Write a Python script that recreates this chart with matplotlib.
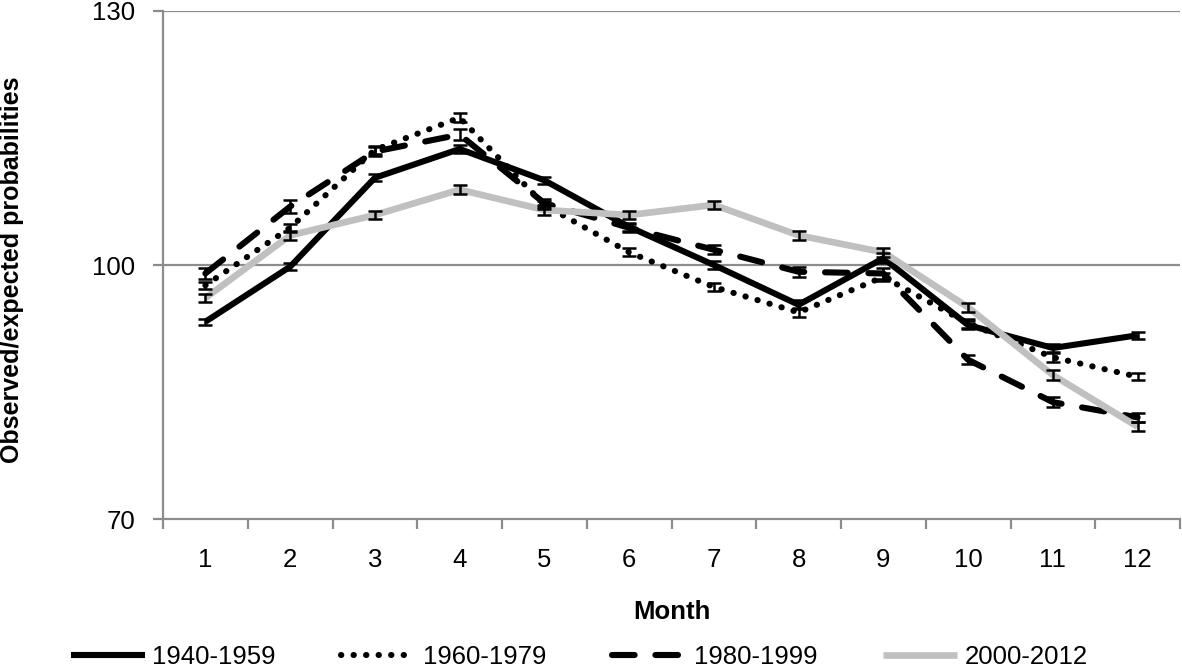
import matplotlib
matplotlib.use("Agg")
import matplotlib.pyplot as plt
from matplotlib.ticker import FixedLocator

plt.rcParams['font.family'] = ['Liberation Sans', 'DejaVu Sans']

months = [1, 2, 3, 4, 5, 6, 7, 8, 9, 10, 11, 12]
month_labels = ['1', '2', '3', '4', '5', '6', '7', '8', '9', '10', '11', '12']

s1940 = [93.3, 99.8, 110.3, 113.7, 110.0, 104.5, 100.0, 95.3, 100.8, 92.9, 90.2, 91.7]
e1940 = [0.35, 0.4, 0.4, 0.45, 0.45, 0.45, 0.5, 0.55, 0.6, 0.5, 0.5, 0.4]
s1960 = [97.6, 104.4, 113.6, 117.4, 107.1, 101.5, 97.4, 94.4, 98.6, 93.1, 89.1, 86.8]
e1960 = [0.45, 0.5, 0.5, 0.55, 0.5, 0.45, 0.45, 0.5, 0.5, 0.5, 0.5, 0.4]
s1980 = [99.0, 106.9, 113.4, 115.4, 107.3, 104.4, 101.8, 99.2, 99.0, 88.8, 83.8, 82.0]
e1980 = [0.7, 0.8, 0.5, 0.65, 0.5, 0.5, 0.55, 0.6, 0.6, 0.55, 0.6, 0.55]
s2000 = [96.1, 103.5, 105.9, 108.9, 106.5, 105.9, 107.1, 103.5, 101.5, 95.0, 87.0, 80.9]
e2000 = [0.5, 0.5, 0.5, 0.5, 0.55, 0.5, 0.5, 0.5, 0.5, 0.55, 0.6, 0.5]

series_labels = ['1940-1959', '1960-1979', '1980-1999', '2000-2012']
y_ticks = [70, 100, 130]

fig = plt.figure(figsize=(11.82, 6.68), dpi=100)
ax = fig.add_axes([163/1182, 1 - 519/668, (1180-163)/1182, (519-11)/668])

grey = '#8c8c8c'
styles = [
    dict(color='black', lw=4.4, ls='-', solid_capstyle='butt'),
    dict(color='black', lw=4.4, ls=(0, (0.05, 2.0)), dash_capstyle='round'),
    dict(color='black', lw=4.4, ls=(0, (3.7, 3.4)), dash_capstyle='round'),
    dict(color='#c0c0c0', lw=4.8, ls='-', solid_capstyle='butt'),
]
data = [(s1940, e1940), (s1960, e1960), (s1980, e1980), (s2000, e2000)]

handles = []
for (vals, errs), st, lab in zip(data, styles, series_labels):
    ax.errorbar(months, vals, yerr=errs, fmt='none', ecolor='black',
                elinewidth=1.8, capsize=4.8, capthick=1.8, zorder=3)
    h, = ax.plot(months, vals, label=lab, zorder=2, **st)
    handles.append(h)

ax.set_xlim(0.5, 12.5)
ax.set_ylim(70, 130)
ax.set_yticks(y_ticks)
ax.set_xticks(months)
ax.set_xticklabels(month_labels)
ax.xaxis.set_minor_locator(FixedLocator([m + 0.5 for m in [0] + months]))
ax.tick_params(axis='x', which='major', length=0, pad=21, labelsize=18.5)
ax.tick_params(axis='x', which='minor', length=7, width=1.6, color=grey, direction='out')
ax.tick_params(axis='y', length=7, width=1.6, color=grey, direction='out', pad=13, labelsize=18.5)

for sp in ['top', 'right']:
    ax.spines[sp].set_visible(False)
for sp in ['left', 'bottom']:
    ax.spines[sp].set_color(grey)
    ax.spines[sp].set_linewidth(1.6)

for yv in [100, 130]:
    ax.axhline(yv, color=grey, lw=1.6, zorder=1)

ax.set_xlabel('Month', fontsize=18.5, fontweight='bold', labelpad=20)
ax.set_ylabel('Observed/expected probabilities', fontsize=18, fontweight='bold')
ax.yaxis.set_label_coords((24 - 163) / (1180 - 163), 0.49)

leg = fig.legend(handles=handles, labels=series_labels, loc='center',
                 bbox_to_anchor=(0.49, 1 - 657/668), ncol=4, frameon=False,
                 fontsize=18.5, handlelength=2.9, handletextpad=0.28,
                 columnspacing=2.55, borderaxespad=0)

fig.savefig('out.png', dpi=100)
